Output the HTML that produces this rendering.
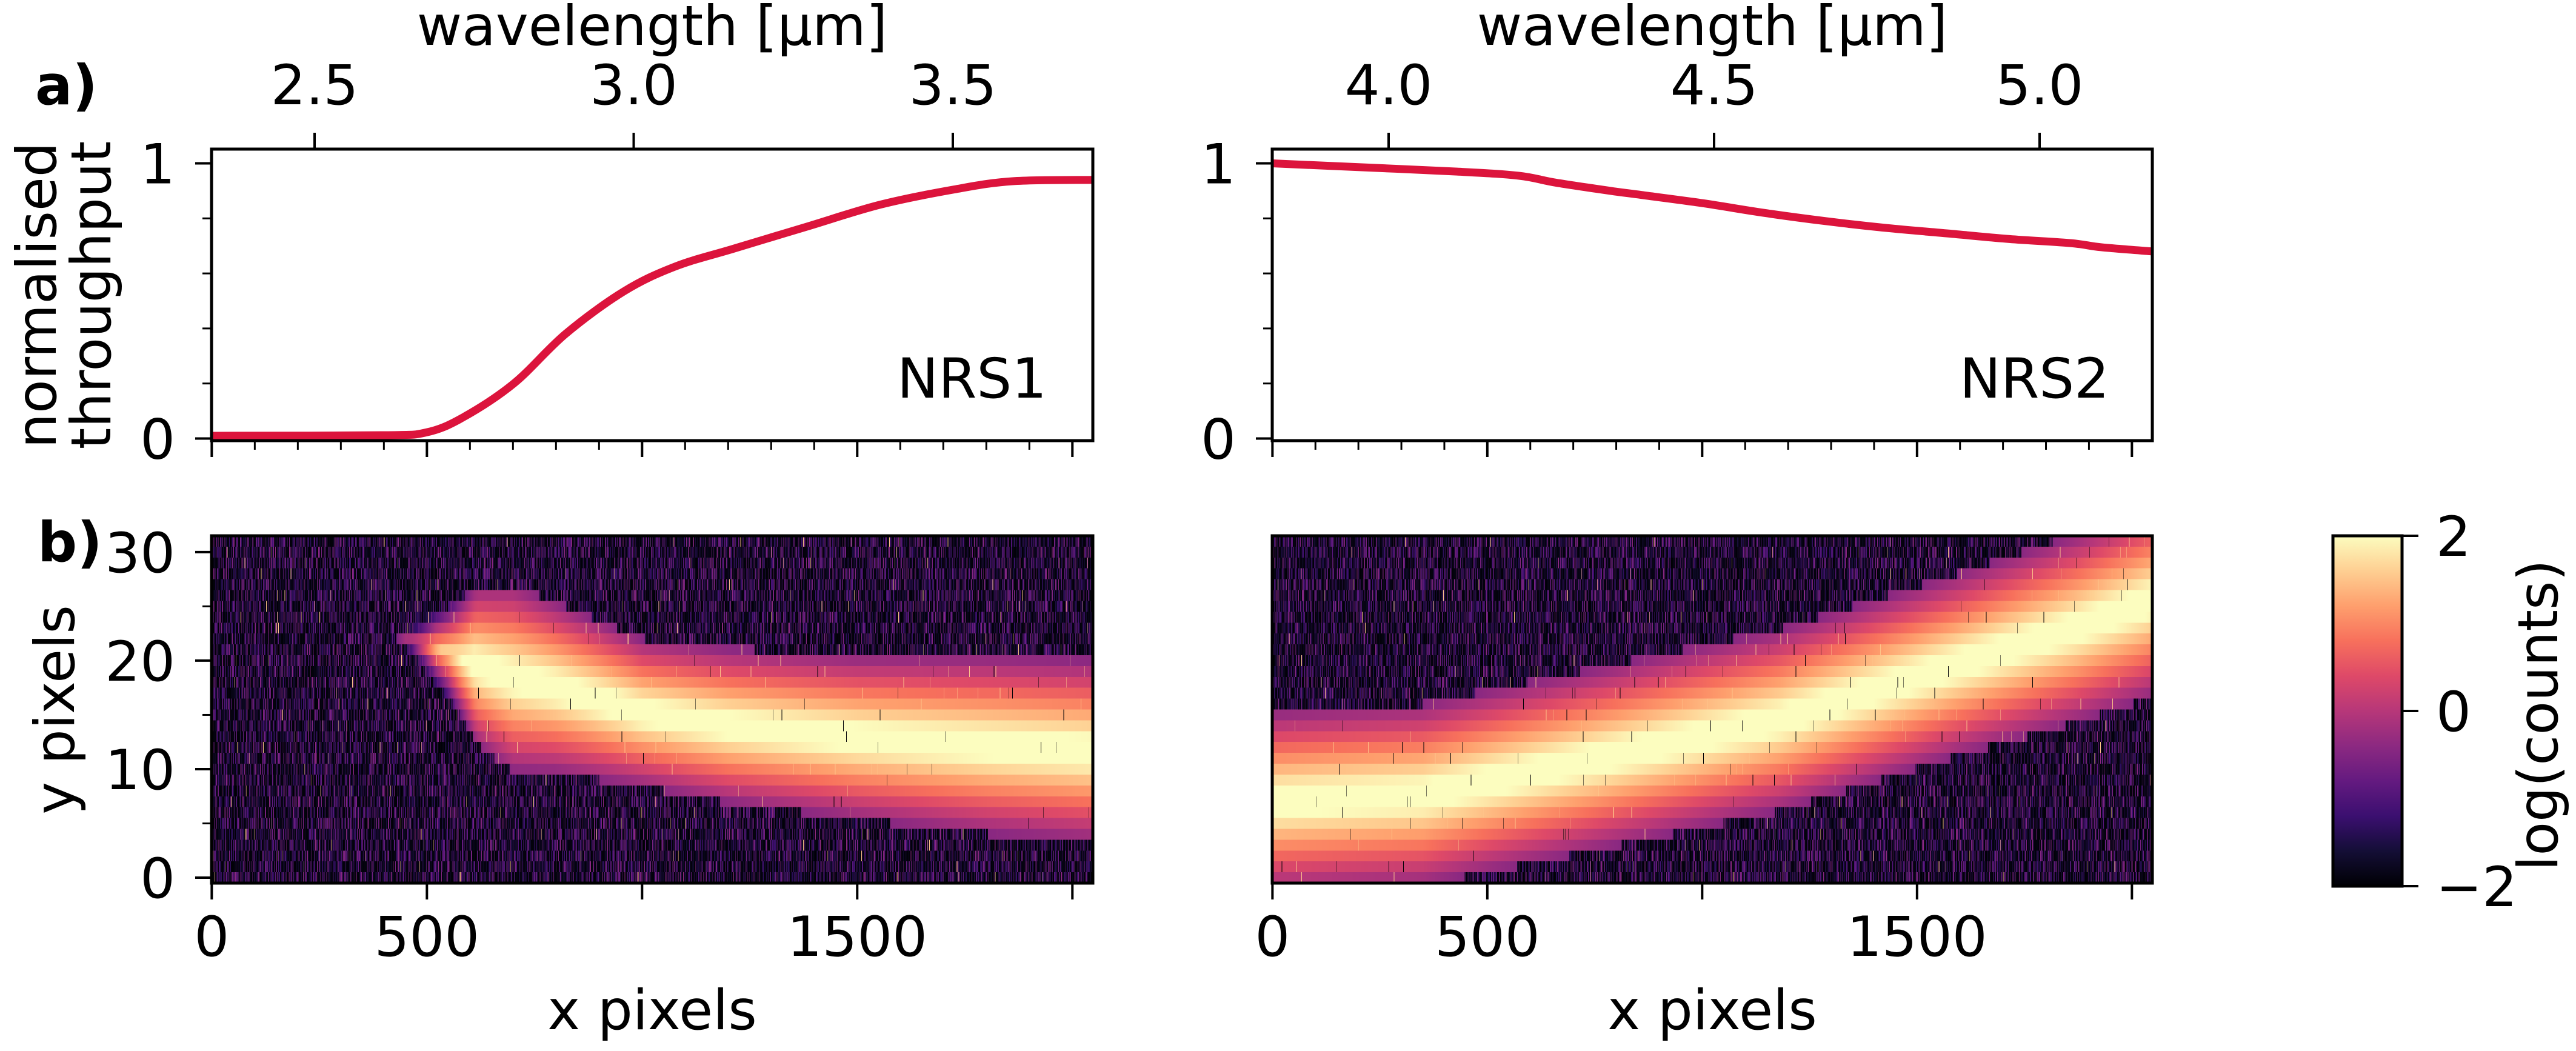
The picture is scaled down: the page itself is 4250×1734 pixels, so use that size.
<!DOCTYPE html>
<html><head><meta charset="utf-8"><style>
html,body{margin:0;padding:0;background:#fff;}
#root{position:relative;width:4250px;height:1734px;overflow:hidden;background:#fff;}
canvas{position:absolute;image-rendering:pixelated;}
svg{position:absolute;left:0;top:0;}
text{font-family:"DejaVu Sans","Liberation Sans",sans-serif;font-size:91px;fill:#000;}
</style></head><body>
<div id="root">
<canvas id="hm1" width="2048" height="32" style="left:349px;top:884px;width:1454px;height:573px;"></canvas>
<canvas id="hm2" width="2048" height="32" style="left:2099px;top:884px;width:1452px;height:573px;"></canvas>
<div style="position:absolute;left:3849px;top:884px;width:114px;height:578px;background:linear-gradient(to top,#000004 0%,#140e36 10%,#3b0f70 20%,#641a80 30%,#8c2981 40%,#b73779 50%,#de4968 60%,#f7705c 70%,#fe9f6d 80%,#fecf92 90%,#fcfdbf 100%);"></div>
<svg id="svg" width="4250" height="1734" viewBox="0 0 4250 1734">
<text x="1076" y="74" text-anchor="middle">wavelength [µm]</text>
<text x="2825" y="74" text-anchor="middle">wavelength [µm]</text>
<text x="58" y="172" font-weight="bold">a)</text>
<text x="62" y="926" font-weight="bold">b)</text>
<text transform="translate(92,487) rotate(-90)" text-anchor="middle">normalised</text>
<text transform="translate(182,487) rotate(-90)" text-anchor="middle">throughput</text>
<text transform="translate(122,1171) rotate(-90)" text-anchor="middle">y pixels</text>
<text x="1076" y="1698" text-anchor="middle">x pixels</text>
<text x="2825" y="1698" text-anchor="middle">x pixels</text>
<text x="1727" y="656" text-anchor="end">NRS1</text>
<text x="3480" y="656" text-anchor="end">NRS2</text>
<text transform="translate(4219,1180) rotate(-90)" text-anchor="middle">log(counts)</text>
<g id="g"></g>
</svg>
</div>
<script>
// ---- data ----
const nrs1Px=[0,395,498,583,702,822,958,1077,1213,1383,1554,1725,1861,2047];
const nrs1T=[0.01,0.012,0.022,0.076,0.2,0.38,0.535,0.625,0.69,0.77,0.85,0.905,0.935,0.94];
const nrs2Px=[0,144,430,573,659,787,859,1002,1144,1287,1430,1573,1715,1858,1929,2047];
const nrs2T=[1.0,0.99,0.97,0.955,0.93,0.9,0.885,0.855,0.82,0.79,0.765,0.745,0.725,0.71,0.695,0.68];
const nrs1TraceX=[450,550,620,700,800,1000,1200,1500,1800,2047];
const nrs1Center=[22,20.8,19.5,18.4,17.5,15.2,14,12.9,12.2,11.7];
const nrs1HalfW=[1.5,4,7,8.2,7.5,6.5,6.8,7.2,7.8,8];
const nrs1AmpX=[430,520,610];
const nrs1Amp=[-3,-1,0];
const nrs2TraceX=[0,350,764,1180,1594,1870,2047];
const nrs2Center=[7,7.6,11,14.5,19.6,23,25.5];
const nrs2HalfW=[8,8,8,8,8,8.3,8.5];
const pxTicksMajor=[0,500,1000,1500,2000];
const pxTickLabels=["0","500","","1500",""];
const pxTicksMinor=[100,200,300,400,600,700,800,900,1100,1200,1300,1400,1600,1700,1800,1900];
const thrTicks=[0,1];
const thrMinor=[0.2,0.4,0.6,0.8];
const yTicks=[0,10,20,30];
const yMinor=[5,15,25];
const wl1Ticks=[2.5,3.0,3.5];
const wl2Ticks=[4.0,4.5,5.0];
const cbTicks=[2,0,-2];
const cbLabels=["2","0","\u22122"];

// ---- axes ----
const L={x0:349,x1:1803}, R={x0:2099,x1:3551};
const topY0=246, topY1=727, botY0=884, botY1=1457;
const xs=(P,px)=>P.x0+(px+0.5)*(P.x1-P.x0)/2048;
const yThr=v=>723.5-v*454;
const yPix=v=>botY1-(v+0.5)*(botY1-botY0)/32;
const wl1=l=>519+(l-2.5)*1053;
const wl2=l=>2291+(l-4.0)*1074;
const cbY=v=>1173-v*144.5;
const NS='http://www.w3.org/2000/svg';
const G=document.getElementById('g');
function el(t,a,p){const e=document.createElementNS(NS,t);for(const k in a)e.setAttribute(k,a[k]);(p||G).appendChild(e);return e;}
function line(x1,y1,x2,y2,name,w){const e=el('line',{x1,y1,x2,y2,stroke:'#000','stroke-width':w||4});

return e;}
function txt(x,y,s,anchor,name){const e=el('text',{x,y,'text-anchor':anchor});e.textContent=s;

return e;}

function interp(xa,ya,x){if(x<=xa[0])return ya[0];for(let i=1;i<xa.length;i++){if(x<=xa[i]){const t=(x-xa[i-1])/(xa[i]-xa[i-1]);return ya[i-1]+t*(ya[i]-ya[i-1]);}}return ya[ya.length-1];}

// curves
function curve(P,pxs,vals,name){
  const pts=pxs.map((p,i)=>[xs(P,p),yThr(vals[i])]);
  let d='M'+pts[0][0]+','+pts[0][1];
  for(let i=0;i<pts.length-1;i++){
    const p0=pts[Math.max(0,i-1)],p1=pts[i],p2=pts[i+1],p3=pts[Math.min(pts.length-1,i+2)];
    const c1=[p1[0]+(p2[0]-p0[0])/6,p1[1]+(p2[1]-p0[1])/6],c2=[p2[0]-(p3[0]-p1[0])/6,p2[1]-(p3[1]-p1[1])/6];
    d+=' C'+c1.join(',')+' '+c2.join(',')+' '+p2.join(',');
  }
  const e=el('path',{d,fill:'none',stroke:'#dc143c','stroke-width':13,'stroke-linejoin':'round'});
  
  
}
curve(L,nrs1Px,nrs1T,'nrs1-throughput-line');
curve(R,nrs2Px,nrs2T,'nrs2-throughput-line');

// top panels frames and ticks
[[L,wl1,wl1Ticks,'nrs1'],[R,wl2,wl2Ticks,'nrs2']].forEach(([P,wf,wt,nm])=>{
  const f=el('rect',{x:P.x0,y:topY0,width:P.x1-P.x0,height:topY1-topY0,fill:'none',stroke:'#000','stroke-width':5});
  
  
  wt.forEach(l=>{line(wf(l),topY0,wf(l),topY0-27,nm+'-wavelength-tick');txt(wf(l),172,l.toFixed(1),'middle',nm+'-wavelength-tick-label');});
  pxTicksMajor.forEach(p=>line(xs(P,p),topY1,xs(P,p),topY1+27,nm+'-top-x-tick'));
  pxTicksMinor.forEach(p=>line(xs(P,p),topY1,xs(P,p),topY1+15,nm+'-top-x-minor-tick',3));
  thrTicks.forEach(v=>{line(P.x0,yThr(v),P.x0-27,yThr(v),nm+'-throughput-tick');txt(P.x0-60,yThr(v)+33,String(v),'end',nm+'-throughput-tick-label');});
  thrMinor.forEach(v=>line(P.x0,yThr(v),P.x0-15,yThr(v),nm+'-throughput-minor-tick',3));
});
// bottom panels
[[L,'nrs1',true],[R,'nrs2',false]].forEach(([P,nm,lab])=>{
  const f=el('rect',{x:P.x0,y:botY0,width:P.x1-P.x0,height:botY1-botY0,fill:'none',stroke:'#000','stroke-width':5});
  
  
  pxTicksMajor.forEach((p,i)=>{line(xs(P,p),botY1,xs(P,p),botY1+27,nm+'-x-pixel-tick');
    if(pxTickLabels[i])txt(xs(P,p),1577,pxTickLabels[i],'middle',nm+'-x-pixel-tick-label');});
  if(lab){
    yTicks.forEach(v=>{line(P.x0,yPix(v),P.x0-27,yPix(v),'y-pixel-tick');txt(P.x0-60,yPix(v)+33,String(v),'end','y-pixel-tick-label');});
    yMinor.forEach(v=>line(P.x0,yPix(v),P.x0-15,yPix(v),'y-pixel-minor-tick',3));
  }
});
// colorbar
{const f=el('rect',{x:3849,y:884,width:114,height:578,fill:'none',stroke:'#000','stroke-width':5});


cbTicks.forEach((v,i)=>{line(3963,cbY(v),3990,cbY(v),'colorbar-tick');txt(4019,cbY(v)+33,cbLabels[i],'start','colorbar-tick-label');});}

// ---- heatmaps ----
const magma=[[0,0,4],[20,14,54],[59,15,112],[100,26,128],[140,41,129],[183,55,121],[222,73,104],[247,112,92],[254,159,109],[254,207,146],[252,253,191]];
function cmap(t){t=Math.max(0,Math.min(1,t))*10;const i=Math.min(9,Math.floor(t)),f=t-i;const a=magma[i],b=magma[i+1];return [a[0]+(b[0]-a[0])*f,a[1]+(b[1]-a[1])*f,a[2]+(b[2]-a[2])*f];}
function hash(a,b,s){const v=Math.sin(a*12.9898+b*78.233+s*37.719)*43758.5453;return v-Math.floor(v);}
function draw(id,tx,tc,tw,ax,av,seed){
  const cv=document.getElementById(id),ctx=cv.getContext('2d'),im=ctx.createImageData(2048,32);
  for(let c=0;c<2048;c++){
    const cen=interp(tx,tc,c),hw=interp(tx,tw,c);
    const amp=ax?(c<ax[0]?-20:interp(ax,av,c)):0;
    for(let r=0;r<32;r++){
      const yv=31-r;
      const d=Math.abs(yv-cen)/hw;
      const s=d<=1.05?2.4-2.7*d+amp:-9;
      const h=hash(c,r,seed);
      let bg=h<0.45?-2+0.3*h:-2+1.65*(h-0.45)/0.55;
      if(h>0.996)bg=1.5;
      let v=Math.max(s,bg);
      if(s>0&&hash(r,c,seed+3)>0.997)v=-2;
      const col=cmap((v+2)/4),k=(r*2048+c)*4;
      im.data[k]=col[0];im.data[k+1]=col[1];im.data[k+2]=col[2];im.data[k+3]=255;
    }
  }
  ctx.putImageData(im,0,0);
}
draw('hm1',nrs1TraceX,nrs1Center,nrs1HalfW,nrs1AmpX,nrs1Amp,1);
draw('hm2',nrs2TraceX,nrs2Center,nrs2HalfW,null,null,2);
</script>
</body></html>
